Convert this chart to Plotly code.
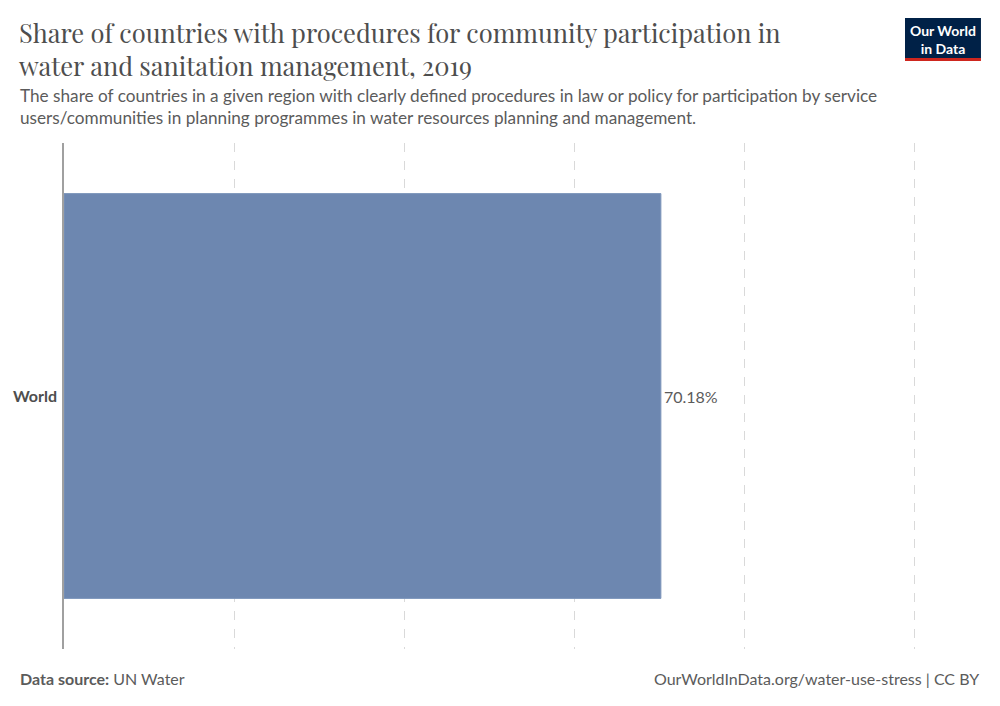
import plotly.graph_objects as go

categories = ["World"]
values = [70.18]
value_labels = ["70.18%"]
x_ticks = [0, 20, 40, 60, 80, 100]
x_max = 101

W, H = 1000, 706
L, T, B = 63.5, 143, 57
PW = 851 * x_max / 100
R = W - L - PW
PH = H - T - B

def px(x):
    return (x - L) / PW

def py(y):
    return (H - B - y) / PH

fig = go.Figure()
fig.add_trace(go.Bar(
    y=categories, x=values, orientation="h",
    marker=dict(color="#6d87b0", line=dict(color="#7d95bb", width=1)),
    width=0.8,
    text=value_labels, textposition="outside", cliponaxis=False,
    textfont=dict(family="Lato", size=16, color="#5b5b5b"),
    hoverinfo="skip",
))

fig.update_layout(
    width=W, height=H,
    margin=dict(l=L, r=R, t=T, b=B),
    paper_bgcolor="white", plot_bgcolor="white",
    showlegend=False,
    xaxis=dict(range=[0, x_max], tickvals=x_ticks, showticklabels=False,
               showgrid=True, gridcolor="#d9d9d9", griddash="dash", gridwidth=1,
               zeroline=False, showline=False, ticks="", fixedrange=True,
               automargin=False),
    yaxis=dict(showline=True, linecolor="#a0a0a0", linewidth=1.5,
               ticks="", showgrid=False, ticklabelstandoff=2, automargin=False,
               tickfont=dict(family="Lato", size=16, color="#4e4e4e", weight="bold"),
               fixedrange=True),
)

title_font = dict(family="Playfair Display, Liberation Serif, serif", size=25.5, color="#4e4e4e")
fig.add_annotation(xref="paper", yref="paper", x=px(16), y=py(13), xanchor="left", yanchor="top",
                   text="Share of countries with procedures for community participation in<br>water and sanitation management, 2019",
                   showarrow=False, align="left", font=title_font)
fig.add_annotation(xref="paper", yref="paper", x=px(17), y=py(83), xanchor="left", yanchor="top",
                   text="The share of countries in a given region with clearly defined procedures in law or policy for participation by service<br>users/communities in planning programmes in water resources planning and management.",
                   showarrow=False, align="left",
                   font=dict(family="Lato", size=17.2, color="#5b5b5b"))
fig.add_annotation(xref="paper", yref="paper", x=px(17), y=py(678), xanchor="left", yanchor="middle",
                   text="<b>Data source:</b> UN Water", showarrow=False,
                   font=dict(family="Lato", size=16, color="#5b5b5b"))
fig.add_annotation(xref="paper", yref="paper", x=px(981), y=py(678), xanchor="right", yanchor="middle",
                   text="OurWorldInData.org/water-use-stress | CC BY", showarrow=False,
                   font=dict(family="Lato", size=16, color="#5b5b5b"))

# logo
fig.add_shape(type="rect", xref="paper", yref="paper", x0=px(905), x1=px(981), y0=py(58), y1=py(18),
              fillcolor="#002147", line=dict(width=0), layer="above")
fig.add_shape(type="rect", xref="paper", yref="paper", x0=px(905), x1=px(981), y0=py(61), y1=py(58),
              fillcolor="#ce261e", line=dict(width=0), layer="above")
fig.add_annotation(xref="paper", yref="paper", x=px(943), y=py(39), xanchor="center", yanchor="middle",
                   text="<b>Our World<br>in Data</b>", showarrow=False, align="center",
                   font=dict(family="Lato", size=14, color="white"))

fig.write_html("out.html", config={"displayModeBar": False},
               post_script="document.body.style.margin='0';")
